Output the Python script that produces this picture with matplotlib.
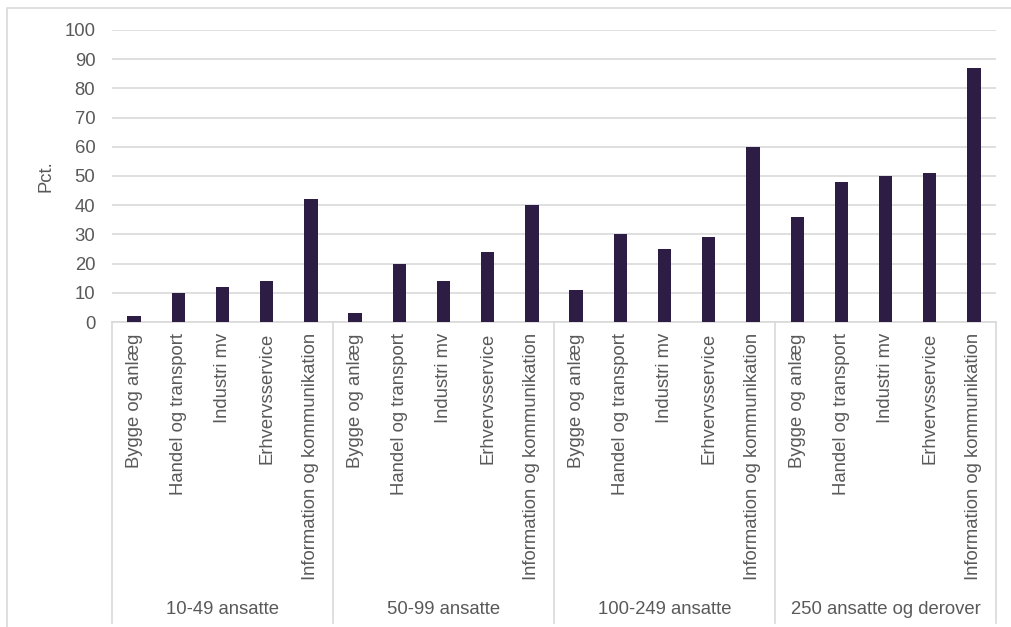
import matplotlib
matplotlib.use("Agg")
import matplotlib.pyplot as plt
import matplotlib.transforms as mtransforms
from matplotlib.patches import Rectangle

# data
groups = ["10-49 ansatte", "50-99 ansatte", "100-249 ansatte", "250 ansatte og derover"]
sectors = ["Bygge og anlæg", "Handel og transport", "Industri mv",
           "Erhvervsservice", "Information og kommunikation"]
v_10_49 = [2, 10, 12, 14, 42]
v_50_99 = [3, 20, 14, 24, 40]
v_100_249 = [11, 30, 25, 29, 60]
v_250 = [36, 48, 50, 51, 87]

values = v_10_49 + v_50_99 + v_100_249 + v_250
labels = sectors * len(groups)

plt.rcParams['font.family'] = ['Liberation Sans', 'DejaVu Sans']
grey = "#595959"
gridc = "#d9d9d9"
fs = 13.3

fig = plt.figure(figsize=(10.11, 6.27), dpi=100)
ax = fig.add_axes([0.1108, 0.4864, 0.8744, 0.4658])

x = list(range(len(values)))
ax.bar(x, values, width=0.3, color="#2d1d45", zorder=3)

ax.set_xlim(-0.5, len(values) - 0.5)
ax.set_ylim(0, 100)
ax.set_yticks(range(0, 101, 10))
ax.yaxis.grid(True, color=gridc, linewidth=1.2, zorder=0)
ax.set_xticks(x)
ax.set_xticklabels(labels, rotation=90, va="top", ha="center")
ax.tick_params(axis="x", length=0, pad=8, labelsize=fs, labelcolor=grey)
ax.tick_params(axis="y", length=0, pad=12, labelsize=fs, labelcolor=grey)
ax.set_ylabel("Pct.", fontsize=fs, color=grey, labelpad=7)

for s in ["top", "right", "left"]:
    ax.spines[s].set_visible(False)
ax.spines["bottom"].set_color(gridc)
ax.spines["bottom"].set_linewidth(1.2)

# group separators and group labels below the axis
trans = mtransforms.blended_transform_factory(ax.transData, ax.transAxes)
n = len(sectors)
for i in range(len(groups) + 1):
    xs = i * n - 0.5
    ax.plot([xs, xs], [0, -1.03], transform=trans, color=gridc,
            linewidth=1.2, clip_on=False)
for i, g in enumerate(groups):
    ax.text(i * n + (n - 1) / 2, -0.985, g, transform=trans, ha="center",
            va="center", fontsize=fs, color=grey)

# outer chart frame
fig.patches.append(Rectangle((7 / 1011, -0.1), 1.1, 1.1 - 8 / 627,
                             transform=fig.transFigure, fill=False,
                             edgecolor=gridc, linewidth=1.2))

fig.savefig("out.png", dpi=100)
